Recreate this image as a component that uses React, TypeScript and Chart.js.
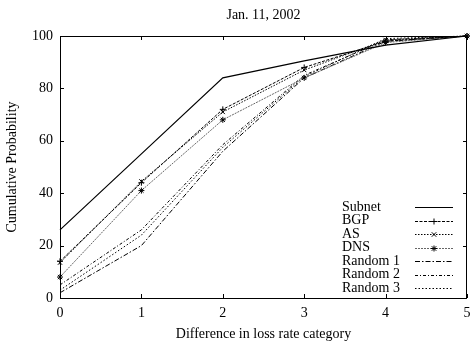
import React, { useEffect, useRef } from "react";
import { Chart, registerables } from "chart.js";

Chart.register(...registerables);

const xValues = [0, 1, 2, 3, 4, 5];
const subnet = [26, 55, 84, 90.5, 96.5, 100];
const bgp = [14, 44, 72, 88, 98, 100];
const asSeries = [13.5, 44.5, 71, 87, 98.5, 100];
const dns = [8, 41, 68, 84, 97.5, 100];
const random1 = [2, 20, 56, 84, 98, 100];
const random2 = [5, 26, 58.5, 85, 98.5, 100];
const random3 = [3, 24, 57.5, 84.5, 99, 100];
const seriesNames = ["Subnet", "BGP", "AS", "DNS", "Random 1", "Random 2", "Random 3"];
const titleText = "Jan. 11, 2002";
const xTitle = "Difference in loss rate category";
const yTitle = "Cumulative Probability";

const FONT = "Liberation Serif";

type Style = { dash: number[]; color: string; width: number; marker: string | false };
const styles: Style[] = [
  { dash: [], color: "#000", width: 1.2, marker: false },
  { dash: [3, 1.5], color: "#000", width: 1, marker: "cross" },
  { dash: [1.5, 1.5], color: "#000", width: 1, marker: "crossRot" },
  { dash: [2, 1], color: "#666", width: 1, marker: "star" },
  { dash: [5, 2, 1.5, 2], color: "#000", width: 1, marker: false },
  { dash: [3, 2, 1, 2], color: "#000", width: 1, marker: false },
  { dash: [1.5, 2], color: "#000", width: 1, marker: false },
];

function drawMarker(ctx: CanvasRenderingContext2D, kind: string, x: number, y: number, r: number) {
  ctx.save();
  ctx.setLineDash([]);
  ctx.strokeStyle = "#000";
  ctx.lineWidth = 1;
  ctx.beginPath();
  if (kind === "cross" || kind === "star") {
    ctx.moveTo(x - r, y);
    ctx.lineTo(x + r, y);
    ctx.moveTo(x, y - r);
    ctx.lineTo(x, y + r);
  }
  if (kind === "crossRot" || kind === "star") {
    const d = r * 0.75;
    ctx.moveTo(x - d, y - d);
    ctx.lineTo(x + d, y + d);
    ctx.moveTo(x - d, y + d);
    ctx.lineTo(x + d, y - d);
  }
  ctx.stroke();
  ctx.restore();
}

const framePlugin = {
  id: "gnuplotFrame",
  afterDraw(chart: any) {
    const ctx: CanvasRenderingContext2D = chart.ctx;
    const { left, right, top, bottom } = chart.chartArea;
    const xs = chart.scales.x;
    const ys = chart.scales.y;
    ctx.save();
    ctx.strokeStyle = "#000";
    ctx.lineWidth = 1;
    ctx.setLineDash([]);
    ctx.strokeRect(Math.round(left) + 0.5, Math.round(top) + 0.5, Math.round(right - left) - 1, Math.round(bottom - top));
    const tl = 4;
    ctx.beginPath();
    xs.ticks.forEach((t: any) => {
      const px = Math.round(xs.getPixelForValue(t.value)) + 0.5;
      ctx.moveTo(px, bottom);
      ctx.lineTo(px, bottom - tl);
      ctx.moveTo(px, top);
      ctx.lineTo(px, top + tl);
    });
    ys.ticks.forEach((t: any) => {
      const py = Math.round(ys.getPixelForValue(t.value)) + 0.5;
      ctx.moveTo(left, py);
      ctx.lineTo(left + tl, py);
      ctx.moveTo(right, py);
      ctx.lineTo(right - tl, py);
    });
    ctx.stroke();

    ctx.fillStyle = "#000";
    ctx.font = `14px "${FONT}"`;
    ctx.textAlign = "center";
    ctx.textBaseline = "middle";
    ctx.fillText(titleText, (left + right) / 2, 15);
    ctx.fillText(xTitle, (left + right) / 2, 334);
    ctx.save();
    ctx.translate(12, (top + bottom) / 2);
    ctx.rotate(-Math.PI / 2);
    ctx.fillText(yTitle, 0, 0);
    ctx.restore();

    // legend
    const textX = 342;
    const lineX0 = 415;
    const lineX1 = 453;
    chart.data.datasets.forEach((ds: any, i: number) => {
      const y = 207 + 13.5 * i;
      const st = styles[i];
      ctx.textAlign = "left";
      ctx.fillStyle = "#000";
      ctx.fillText(ds.label, textX, y);
      ctx.beginPath();
      ctx.setLineDash(st.dash);
      ctx.strokeStyle = st.color;
      ctx.lineWidth = st.width;
      ctx.moveTo(lineX0, Math.round(y) + 0.5);
      ctx.lineTo(lineX1, Math.round(y) + 0.5);
      ctx.stroke();
      if (st.marker) drawMarker(ctx, st.marker, (lineX0 + lineX1) / 2, Math.round(y) + 0.5, 3);
    });
    ctx.restore();
  },
};

export default function App() {
  const ref = useRef<HTMLCanvasElement | null>(null);
  useEffect(() => {
    document.body.style.margin = "0";
    const series = [subnet, bgp, asSeries, dns, random1, random2, random3];
    const chart = new Chart(ref.current as HTMLCanvasElement, {
      type: "line",
      data: {
        datasets: series.map((vals, i) => ({
          label: seriesNames[i],
          data: xValues.map((x, j) => ({ x, y: vals[j] })),
          borderColor: styles[i].color,
          borderWidth: styles[i].width,
          borderDash: styles[i].dash,
          pointStyle: (styles[i].marker || "circle") as any,
          pointRadius: styles[i].marker ? 3 : 0,
          pointBorderColor: "#000",
          pointBackgroundColor: "#000",
          pointBorderWidth: 1,
          fill: false,
          tension: 0,
          clip: 6,
        })),
      },
      options: {
        animation: false,
        responsive: false,
        devicePixelRatio: 1,
        layout: { padding: { top: 36, right: 2, left: 0, bottom: 0 } },
        plugins: { legend: { display: false }, title: { display: false }, tooltip: { enabled: false } },
        scales: {
          x: {
            type: "linear",
            min: 0,
            max: 5,
            ticks: { stepSize: 1, padding: 7, color: "#000", font: { family: FONT, size: 14 } },
            grid: { display: false, drawTicks: false },
            border: { display: false },
            afterFit(scale: any) {
              scale.height = 45;
              scale.paddingLeft = 0;
              scale.paddingRight = 0;
            },
          },
          y: {
            type: "linear",
            min: 0,
            max: 100,
            ticks: { stepSize: 20, padding: 7, color: "#000", font: { family: FONT, size: 14 } },
            grid: { display: false, drawTicks: false },
            border: { display: false },
            afterFit(scale: any) {
              scale.width = 60;
            },
          },
        },
      },
      plugins: [framePlugin],
    });
    return () => chart.destroy();
  }, []);
  return (
    <div style={{ width: 472, height: 343 }}>
      <canvas ref={ref} width={472} height={343} style={{ display: "block" }} />
    </div>
  );
}
